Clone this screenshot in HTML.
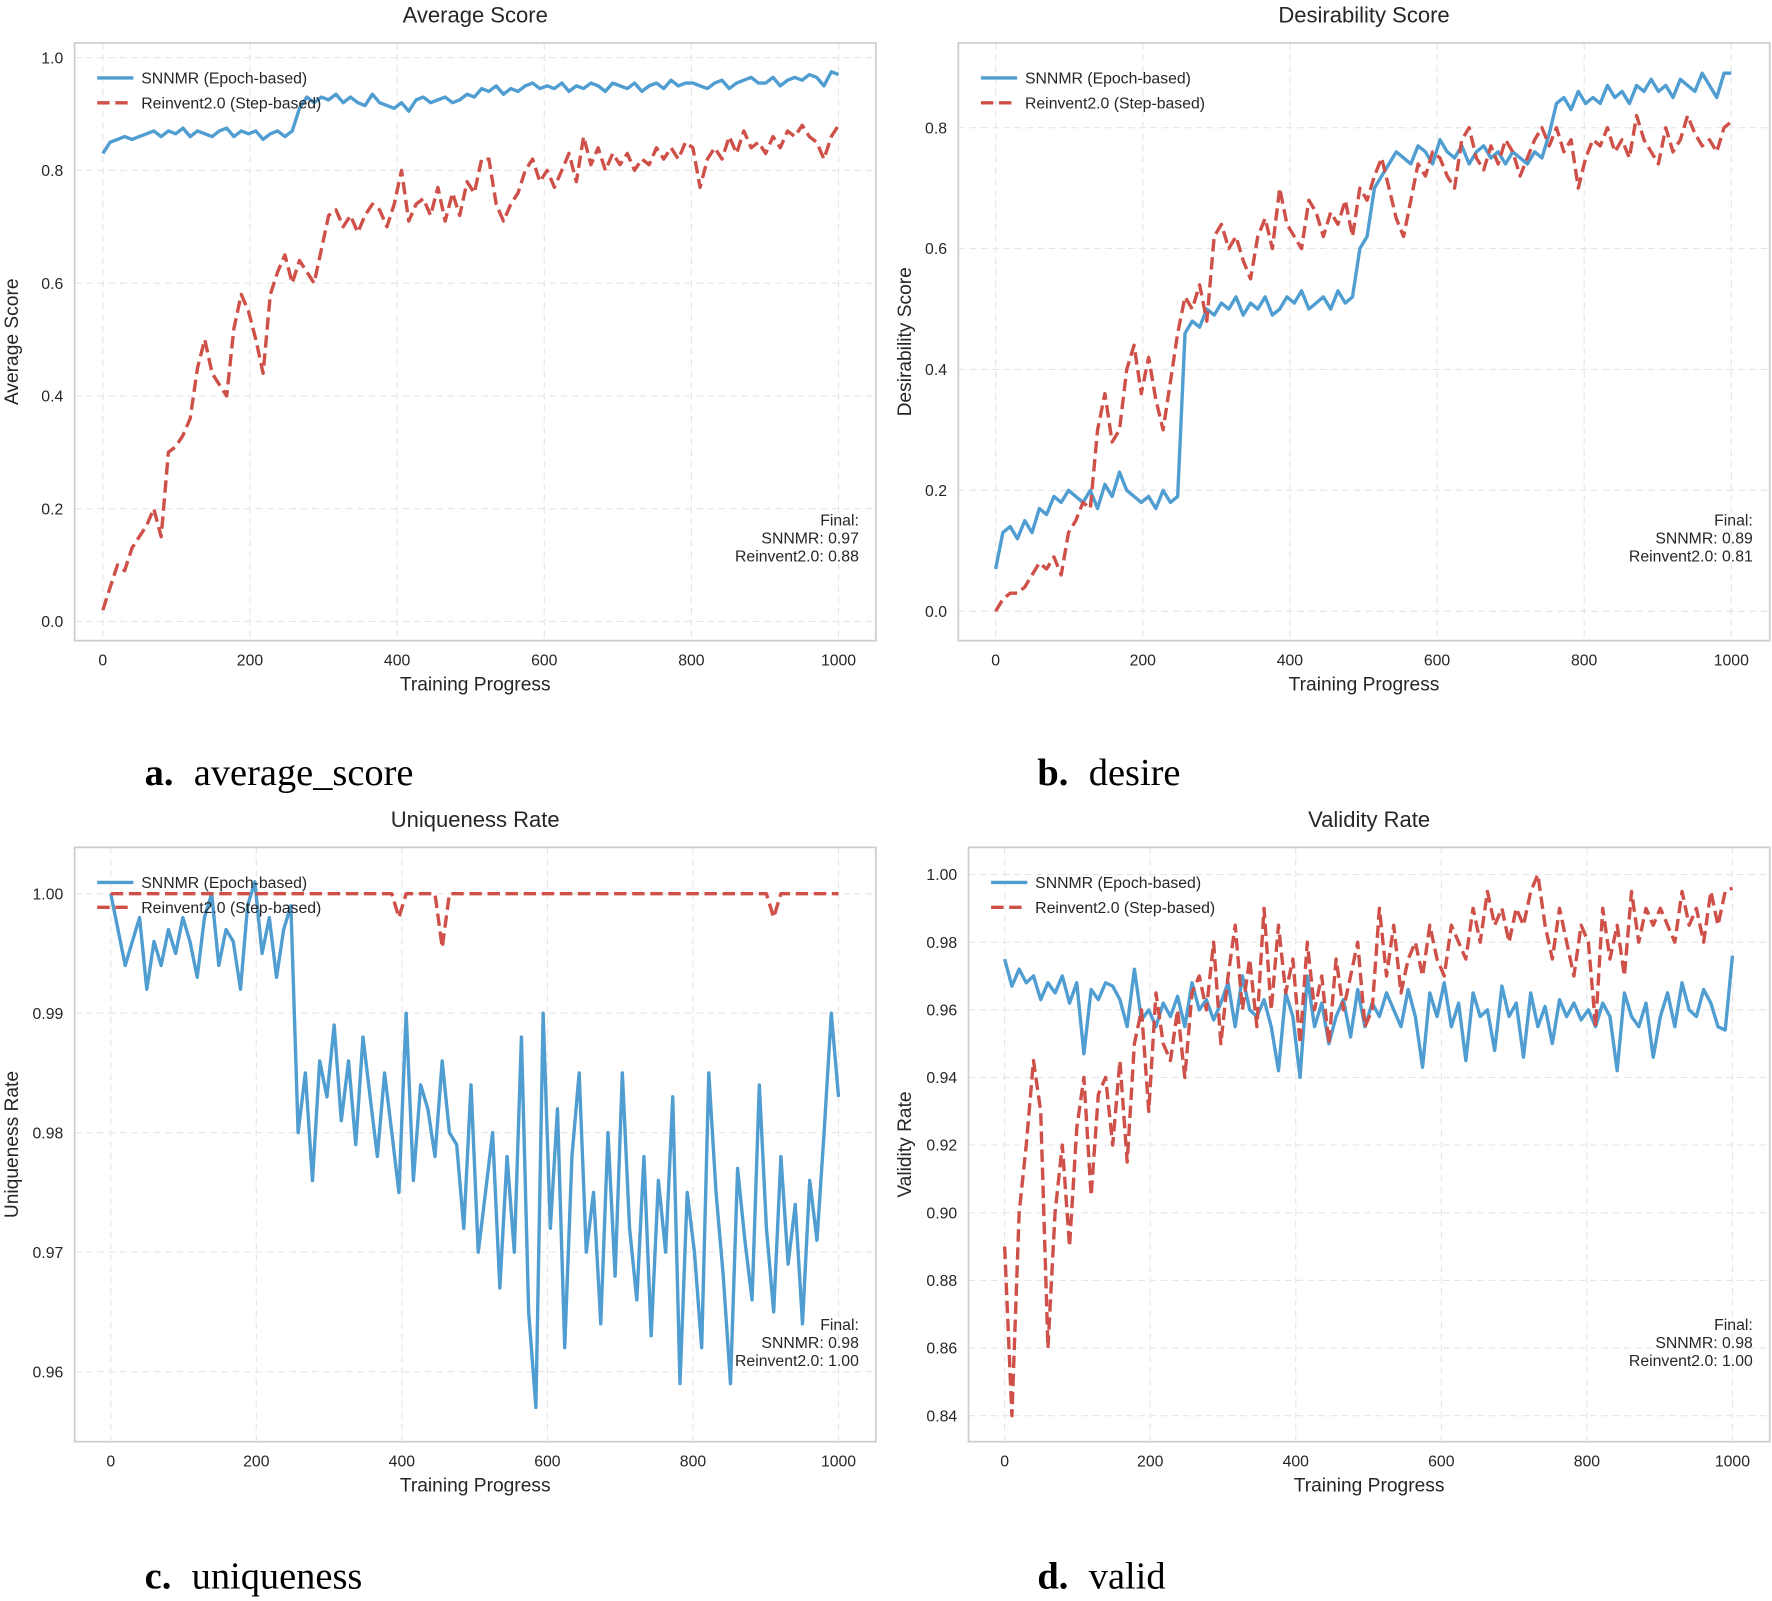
<!DOCTYPE html>
<html><head><meta charset="utf-8">
<style>
html,body{margin:0;padding:0;background:#fff;}
svg{display:block;}
text{font-family:"Liberation Sans",sans-serif;fill:#262626;}
.cap{font-family:"Liberation Serif",serif;fill:#000;}
</style></head>
<body>
<svg id="fig" width="1772" height="1601" viewBox="0 0 1568 1417" preserveAspectRatio="none" xmlns="http://www.w3.org/2000/svg">
<text class="cap" x="128" y="695" font-size="34"><tspan font-weight="bold">a.</tspan><tspan dx="18">average_score</tspan></text>
<text class="cap" x="918" y="695" font-size="34"><tspan font-weight="bold">b.</tspan><tspan dx="18">desire</tspan></text>
<text class="cap" x="128" y="1406" font-size="34"><tspan font-weight="bold">c.</tspan><tspan dx="18">uniqueness</tspan></text>
<text class="cap" x="918" y="1406" font-size="34"><tspan font-weight="bold">d.</tspan><tspan dx="18">valid</tspan></text>
</svg>
<script>
const xTicks = [0,200,400,600,800,1000];
const avgTicks = [0.0,0.2,0.4,0.6,0.8,1.0];
const desTicks = [0.0,0.2,0.4,0.6,0.8];
const uniTicks = [0.96,0.97,0.98,0.99,1.00];
const valTicks = [0.84,0.86,0.88,0.90,0.92,0.94,0.96,0.98,1.00];
const seriesLabels = ["SNNMR (Epoch-based)","Reinvent2.0 (Step-based)"];
const finalAvg = ["0.97","0.88"];
const finalDes = ["0.89","0.81"];
const finalUni = ["0.98","1.00"];
const finalVal = ["0.98","1.00"];

const avgSNNMR = [0.83,0.85,0.855,0.86,0.855,0.86,0.865,0.87,0.86,0.87,0.865,
0.875,0.86,0.87,0.865,0.86,0.87,0.875,0.86,0.87,0.865,
0.87,0.855,0.865,0.87,0.86,0.87,0.91,0.93,0.92,0.93,
0.925,0.935,0.92,0.93,0.92,0.915,0.935,0.92,0.915,0.91,
0.92,0.905,0.925,0.93,0.92,0.925,0.93,0.92,0.925,0.935,
0.93,0.945,0.94,0.95,0.935,0.945,0.94,0.95,0.955,0.945,
0.95,0.945,0.955,0.94,0.95,0.945,0.955,0.95,0.94,0.955,
0.95,0.945,0.955,0.94,0.95,0.955,0.945,0.96,0.95,0.955,
0.955,0.95,0.945,0.955,0.96,0.945,0.955,0.96,0.965,0.955,
0.955,0.965,0.95,0.96,0.965,0.96,0.97,0.965,0.95,0.975,0.97];
const avgReinvent = [0.02,0.06,0.1,0.09,0.13,0.15,0.17,0.2,0.15,0.3,0.31,
0.33,0.36,0.45,0.5,0.44,0.42,0.40,0.52,0.58,0.55,
0.5,0.44,0.58,0.62,0.65,0.6,0.64,0.62,0.6,0.66,
0.72,0.73,0.7,0.72,0.69,0.72,0.74,0.73,0.7,0.74,
0.8,0.71,0.74,0.75,0.72,0.77,0.71,0.76,0.72,0.78,
0.76,0.82,0.82,0.74,0.71,0.74,0.76,0.8,0.82,0.78,
0.8,0.77,0.8,0.83,0.78,0.86,0.81,0.84,0.8,0.83,
0.81,0.83,0.8,0.82,0.81,0.84,0.82,0.84,0.82,0.85,
0.84,0.77,0.82,0.84,0.82,0.86,0.83,0.87,0.84,0.85,
0.83,0.86,0.84,0.87,0.86,0.88,0.86,0.85,0.82,0.86,0.88];
const desSNNMR = [0.07,0.13,0.14,0.12,0.15,0.13,0.17,0.16,0.19,0.18,0.2,
0.19,0.18,0.2,0.17,0.21,0.19,0.23,0.2,0.19,0.18,
0.19,0.17,0.2,0.18,0.19,0.46,0.48,0.47,0.5,0.49,
0.51,0.5,0.52,0.49,0.51,0.5,0.52,0.49,0.5,0.52,
0.51,0.53,0.5,0.51,0.52,0.5,0.53,0.51,0.52,0.6,
0.62,0.7,0.72,0.74,0.76,0.75,0.74,0.77,0.76,0.74,
0.78,0.76,0.75,0.77,0.74,0.76,0.77,0.75,0.76,0.74,
0.76,0.75,0.74,0.76,0.75,0.79,0.84,0.85,0.83,0.86,
0.84,0.85,0.84,0.87,0.85,0.86,0.84,0.87,0.86,0.88,
0.86,0.87,0.85,0.88,0.87,0.86,0.89,0.87,0.85,0.89,0.89];
const desReinvent = [0.0,0.02,0.03,0.03,0.04,0.06,0.08,0.07,0.09,0.06,0.13,
0.15,0.18,0.17,0.3,0.36,0.28,0.3,0.4,0.44,0.36,
0.42,0.35,0.3,0.38,0.46,0.52,0.5,0.54,0.48,0.62,
0.64,0.6,0.62,0.58,0.55,0.62,0.65,0.6,0.7,0.64,
0.62,0.6,0.68,0.66,0.62,0.66,0.64,0.68,0.62,0.7,
0.68,0.72,0.75,0.7,0.65,0.62,0.68,0.74,0.72,0.76,
0.75,0.72,0.7,0.78,0.8,0.75,0.73,0.77,0.74,0.78,
0.76,0.72,0.75,0.78,0.8,0.77,0.8,0.76,0.78,0.7,
0.75,0.78,0.77,0.8,0.76,0.78,0.75,0.82,0.78,0.76,
0.74,0.8,0.76,0.78,0.82,0.79,0.77,0.78,0.76,0.8,0.81];
const uniSNNMR = [1.0,0.997,0.994,0.996,0.998,0.992,0.996,0.994,0.997,0.995,0.998,
0.996,0.993,0.998,1.0,0.994,0.997,0.996,0.992,0.999,1.001,
0.995,0.998,0.993,0.997,0.999,0.98,0.985,0.976,0.986,0.983,
0.989,0.981,0.986,0.979,0.988,0.983,0.978,0.985,0.98,0.975,
0.99,0.976,0.984,0.982,0.978,0.986,0.98,0.979,0.972,0.984,
0.97,0.975,0.98,0.967,0.978,0.97,0.988,0.965,0.957,0.99,
0.972,0.982,0.962,0.978,0.985,0.97,0.975,0.964,0.98,0.968,
0.985,0.972,0.966,0.978,0.963,0.976,0.97,0.983,0.959,0.975,
0.97,0.962,0.985,0.975,0.968,0.959,0.977,0.971,0.966,0.984,
0.972,0.965,0.978,0.969,0.974,0.964,0.976,0.971,0.98,0.99,0.983];
const uniReinvent = [1,1,1,1,1,1,1,1,1,1,1,
1,1,1,1,1,1,1,1,1,1,
1,1,1,1,1,1,1,1,1,1,
1,1,1,1,1,1,1,1,1,0.998,
1,1,1,1,1,0.9955,1,1,1,1,
1,1,1,1,1,1,1,1,1,1,
1,1,1,1,1,1,1,1,1,1,
1,1,1,1,1,1,1,1,1,1,
1,1,1,1,1,1,1,1,1,1,
1,0.998,1,1,1,1,1,1,1,1,1];
const valSNNMR = [0.975,0.967,0.972,0.968,0.97,0.963,0.968,0.965,0.97,0.962,0.968,
0.947,0.966,0.963,0.968,0.967,0.963,0.955,0.972,0.957,0.96,
0.955,0.962,0.958,0.964,0.955,0.968,0.96,0.963,0.957,0.962,
0.968,0.955,0.97,0.96,0.958,0.963,0.955,0.942,0.965,0.958,
0.94,0.97,0.955,0.962,0.95,0.958,0.963,0.952,0.966,0.955,
0.962,0.958,0.965,0.96,0.955,0.966,0.958,0.943,0.965,0.958,
0.968,0.955,0.962,0.945,0.965,0.958,0.96,0.948,0.967,0.958,
0.962,0.946,0.965,0.955,0.961,0.95,0.963,0.958,0.962,0.957,
0.96,0.955,0.962,0.958,0.942,0.965,0.958,0.955,0.962,0.946,
0.958,0.965,0.955,0.968,0.96,0.958,0.966,0.962,0.955,0.954,0.976];
const valReinvent = [0.89,0.84,0.9,0.92,0.945,0.93,0.86,0.9,0.92,0.89,0.925,
0.94,0.905,0.935,0.94,0.92,0.945,0.915,0.95,0.96,0.93,
0.965,0.95,0.945,0.96,0.94,0.965,0.97,0.96,0.98,0.95,
0.97,0.985,0.96,0.975,0.955,0.99,0.96,0.985,0.965,0.975,
0.95,0.98,0.96,0.97,0.95,0.975,0.96,0.97,0.98,0.955,
0.96,0.99,0.97,0.985,0.965,0.975,0.98,0.97,0.985,0.975,
0.97,0.985,0.98,0.975,0.99,0.98,0.995,0.985,0.99,0.98,
0.99,0.985,0.995,1.0,0.985,0.975,0.99,0.98,0.97,0.985,
0.98,0.955,0.99,0.975,0.985,0.97,0.995,0.98,0.99,0.985,
0.99,0.985,0.98,0.995,0.985,0.99,0.98,0.995,0.985,0.995,0.996];

const NS = "http://www.w3.org/2000/svg";
const fig = document.getElementById('fig');
function mk(tag, attrs, parent){
  const e = document.createElementNS(NS, tag);
  for (const k in attrs) e.setAttribute(k, attrs[k]);
  (parent||fig).appendChild(e);
  return e;
}
function txt(s, attrs, parent){ const t = mk('text', attrs, parent); t.textContent = s; return t; }

function panel(p){
  const g = mk('g', {});
  
  
  const xs = v => p.x0 + (v - 0) / 1000 * (p.x1 - p.x0);
  const ys = v => p.yA + (v - p.vA) / (p.vB - p.vA) * (p.yB - p.yA);
  const fr = mk('rect', {x:p.L, y:p.T, width:p.R-p.L, height:p.B-p.T, fill:'#fff', stroke:'none'}, g);
  
  
  p.yTicks.forEach(v => {
    const y = ys(v);
    const gl = mk('line', {x1:p.L, x2:p.R, y1:y, y2:y, stroke:'#e6e6e6', 'stroke-width':1, 'stroke-dasharray':'6,4'}, g);
    
    
    const tl = txt(v.toFixed(p.dec), {x:p.L-10, y:y+5, 'font-size':14, 'text-anchor':'end'}, g);
    
    
  });
  xTicks.forEach(v => {
    const x = xs(v);
    const gl = mk('line', {x1:x, x2:x, y1:p.T, y2:p.B, stroke:'#e6e6e6', 'stroke-width':1, 'stroke-dasharray':'6,4'}, g);
    
    
    const tl = txt(String(v), {x:x, y:p.B+22, 'font-size':14, 'text-anchor':'middle'}, g);
    
    
  });
  const mkLine = (arr, color, dash, name) => {
    const n = arr.length;
    const d = arr.map((v,i) => (i?'L':'M') + xs(i*1000/(n-1)).toFixed(1) + ',' + ys(v).toFixed(1)).join(' ');
    const pa = mk('path', {d:d, fill:'none', stroke:color, 'stroke-width':3, 'stroke-linejoin':'round', 'stroke-dasharray':dash}, g);
    
    
  };
  mkLine(p.s1, '#4f9dd1', 'none', p.id + '-snnmr-line');
  mkLine(p.s2, '#cf5048', '11,5', p.id + '-reinvent-line');
  const fb = mk('rect', {x:p.L, y:p.T, width:p.R-p.L, height:p.B-p.T, fill:'none', stroke:'#cccccc', 'stroke-width':1.5}, g);
  
  
  const cx = (p.L+p.R)/2;
  const tt = txt(p.title, {x:cx, y:p.T-18, 'font-size':19.5, 'text-anchor':'middle'}, g);
  
  
  const xl = txt('Training Progress', {x:cx, y:p.B+44, 'font-size':17, 'text-anchor':'middle'}, g);
  
  
  const ymid = (p.T+p.B)/2;
  const yl = txt(p.ylabel, {x:p.ylx, y:ymid, 'font-size':17, 'text-anchor':'middle', transform:'rotate(-90 '+p.ylx+' '+ymid+')'}, g);
  
  
  const ly = [p.T+31, p.T+53];
  [['#4f9dd1','none'],['#cf5048','11,5']].forEach((c,i) => {
    const le = mk('g', {}, g);
    
    
    mk('line', {x1:p.L+20, x2:p.L+52, y1:ly[i], y2:ly[i], stroke:c[0], 'stroke-width':3, 'stroke-dasharray':c[1]}, le);
    txt(seriesLabels[i], {x:p.L+59, y:ly[i]+5, 'font-size':14}, le);
  });
  const fa = mk('g', {}, g);
  
  
  txt('Final:', {x:p.R-15, y:p.fy, 'font-size':14, 'text-anchor':'end'}, fa);
  txt('SNNMR: ' + p.fin[0], {x:p.R-15, y:p.fy+16, 'font-size':14, 'text-anchor':'end'}, fa);
  txt('Reinvent2.0: ' + p.fin[1], {x:p.R-15, y:p.fy+32, 'font-size':14, 'text-anchor':'end'}, fa);
}

panel({id:'average-score', title:'Average Score', ylabel:'Average Score', L:66, R:775, T:38, B:567,
  x0:91, x1:742, vA:0, yA:550, vB:1, yB:51, yTicks:avgTicks, dec:1, ylx:16, s1:avgSNNMR, s2:avgReinvent, fin:finalAvg, fy:465});
panel({id:'desirability', title:'Desirability Score', ylabel:'Desirability Score', L:848, R:1566, T:38, B:567,
  x0:881, x1:1532, vA:0, yA:541, vB:0.8, yB:113, yTicks:desTicks, dec:1, ylx:806, s1:desSNNMR, s2:desReinvent, fin:finalDes, fy:465});
panel({id:'uniqueness', title:'Uniqueness Rate', ylabel:'Uniqueness Rate', L:66, R:775, T:750, B:1276,
  x0:98, x1:742, vA:1.0, yA:791, vB:0.96, yB:1214, yTicks:uniTicks, dec:2, ylx:16, s1:uniSNNMR, s2:uniReinvent, fin:finalUni, fy:1177});
panel({id:'validity', title:'Validity Rate', ylabel:'Validity Rate', L:857, R:1566, T:750, B:1276,
  x0:889, x1:1533, vA:1.0, yA:774, vB:0.84, yB:1253, yTicks:valTicks, dec:2, ylx:806, s1:valSNNMR, s2:valReinvent, fin:finalVal, fy:1177});
</script>
</body></html>
